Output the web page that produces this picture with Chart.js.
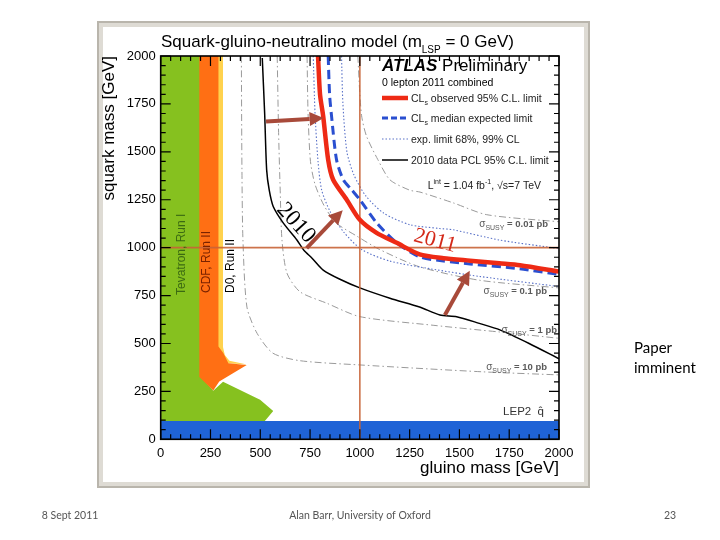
<!DOCTYPE html>
<html>
<head>
<meta charset="utf-8">
<script src="https://cdn.jsdelivr.net/npm/chart.js@4.4.1/dist/chart.umd.min.js"></script>
<style>
  html, body { margin: 0; padding: 0; background: #fff; }
  canvas { display: block; }
</style>
</head>
<body>
<canvas id="chart" width="720" height="540"></canvas>
<script>
const FONT = "'Liberation Sans', Arial, sans-serif";
const SERIF = "'Liberation Serif', 'DejaVu Serif', serif";

// axis range and ticks (GeV)
const axisMin = 0;
const axisMax = 2000;
const majorStep = 250;
const minorStep = 50;

// CLs observed 95% C.L. limit (2011)
const obsX = [790, 800, 816, 841, 866, 934, 1000, 1084, 1185, 1300, 1420, 1553, 1700, 1804, 2000];
const obsY = [2000, 1800, 1685, 1458, 1354, 1250, 1145, 1077, 1025, 965, 945, 932, 918, 908, 875];

// CLs median expected limit
const expX = [841, 848, 858, 883, 917, 959, 1000, 1084, 1185, 1300, 1420, 1553, 1800, 2000];
const expY = [2000, 1800, 1685, 1458, 1354, 1302, 1250, 1130, 1025, 952, 930, 915, 890, 860];

// expected limit bands (68%, 99%)
const bandLoX = [766, 775, 790, 808, 850, 920, 1009, 1150, 1352, 1600, 2000];
const bandLoY = [2000, 1700, 1450, 1302, 1190, 1080, 990, 930, 890, 850, 797];
const bandHiX = [908, 915, 935, 970, 1030, 1120, 1250, 1400, 1470, 1700, 2000];
const bandHiY = [2000, 1750, 1500, 1380, 1270, 1180, 1120, 1100, 1093, 1040, 995];

// 2010 data PCL 95% C.L. limit
const pclX = [510, 522, 532, 545, 565, 616, 683, 720, 760, 816, 900, 1000, 1151, 1300, 1402, 1486, 1600, 1703, 1850, 2000];
const pclY = [1990, 1700, 1406, 1300, 1215, 1128, 1041, 985, 945, 883, 835, 790, 736, 690, 649, 640, 605, 571, 500, 420];

// sigma_SUSY contours
const sig001X = [990, 1000, 1010, 1034, 1090, 1151, 1250, 1302, 1468, 1637, 2000];
const sig001Y = [2000, 1800, 1680, 1580, 1460, 1354, 1300, 1290, 1234, 1172, 1135];
const sig01X = [735, 740, 752, 775, 820, 880, 985, 1100, 1300, 1600, 2000];
const sig01Y = [2000, 1700, 1450, 1330, 1220, 1130, 1060, 990, 900, 830, 790];
const sig1X = [585, 592, 600, 609, 634, 699, 834, 1000, 1368, 1700, 2000];
const sig1Y = [2000, 1600, 1300, 1040, 867, 770, 710, 640, 595, 560, 527];
const sig10X = [405, 408, 413, 433, 484, 564, 700, 1000, 1618, 2000];
const sig10Y = [2000, 1400, 1040, 690, 553, 449, 410, 388, 352, 336];

// excluded regions from earlier experiments
const tevX = [0, 0, 200, 200, 264, 313, 499, 565, 523, 0];
const tevY = [95, 2000, 2000, 330, 253, 300, 206, 148, 95, 95];
const cdfX = [194, 290, 290, 315, 340, 432, 294, 264, 194, 194];
const cdfY = [2000, 2000, 484, 449, 397, 388, 301, 254, 325, 2000];
const d0X = [283, 313, 313, 322, 345, 433, 300, 283, 283];
const d0Y = [2000, 2000, 480, 440, 410, 390, 400, 470, 2000];
const lepX = [0, 2000, 2000, 0, 0];
const lepY = [0, 0, 95, 95, 0];

// slide annotations: guide lines at 1 TeV, arrows
const guideHX = [0, 2000];
const guideHY = [1000, 1000];
const guideVX = [1000, 1000];
const guideVY = [0, 2000];
const arrows = [
  { x: [529, 818], y: [1658, 1676] },
  { x: [733, 914], y: [997, 1195] },
  { x: [1427, 1552], y: [649, 880] }
];

const pts = (xs, ys) => xs.map((x, i) => ({ x, y: ys[i] }));

function curve(label, xs, ys, style) {
  return Object.assign({ label, data: pts(xs, ys), pointRadius: 0, fill: false, tension: 0.25 }, style);
}
function area(label, xs, ys, color, order) {
  return { label, data: pts(xs, ys), pointRadius: 0, borderWidth: 0, tension: 0,
           backgroundColor: color, borderColor: color, fill: 'shape', order };
}

const grayDash = { borderColor: '#9a9a9a', borderWidth: 1, borderDash: [7, 3, 1.5, 3], order: 6 };
const blueDot = { borderColor: '#5a72c8', borderWidth: 1.1, borderDash: [1.5, 2], order: 5 };

const datasets = [
  area('LEP2', lepX, lepY, '#1f63d6', 12),
  area('Tevatron, Run I', tevX, tevY, '#86c11f', 11),
  area('D0, Run II', d0X, d0Y, '#ffd24e', 10),
  area('CDF, Run II', cdfX, cdfY, '#ff6f14', 9),
  curve('sigma 10 pb', sig10X, sig10Y, grayDash),
  curve('sigma 1 pb', sig1X, sig1Y, grayDash),
  curve('sigma 0.1 pb', sig01X, sig01Y, grayDash),
  curve('sigma 0.01 pb', sig001X, sig001Y, grayDash),
  curve('exp. band low', bandLoX, bandLoY, blueDot),
  curve('exp. band high', bandHiX, bandHiY, blueDot),
  curve('2010 PCL', pclX, pclY, { borderColor: '#000', borderWidth: 1.5, order: 4 }),
  curve('guide h', guideHX, guideHY, { borderColor: 'rgba(200,100,55,0.9)', borderWidth: 1.6, tension: 0, order: 3 }),
  curve('guide v', guideVX, guideVY, { borderColor: 'rgba(200,100,55,0.9)', borderWidth: 1.6, tension: 0, order: 3 }),
  curve('CLs expected', expX, expY, { borderColor: '#2a4fd0', borderWidth: 3, borderDash: [9, 5], order: 2 }),
  curve('CLs observed', obsX, obsY, { borderColor: '#ee2a15', borderWidth: 4.5, order: 1 })
];

function fontOf(p) {
  return `${p.style || ''} ${p.weight || ''} ${p.size}px ${p.family || FONT}`;
}
function rich(c, parts, x, y, align, color) {
  let w = 0;
  parts.forEach(p => { c.font = fontOf(p); p.w = c.measureText(p.t).width; w += p.w; });
  let cx = align === 'right' ? x - w : align === 'center' ? x - w / 2 : x;
  c.textAlign = 'left';
  c.textBaseline = 'alphabetic';
  parts.forEach(p => {
    c.font = fontOf(p);
    c.fillStyle = p.color || color || '#000';
    c.fillText(p.t, cx, y + (p.dy || 0));
    cx += p.w;
  });
}
function sigmaLabel(c, value, x, y) {
  rich(c, [
    { t: 'σ', size: 10 },
    { t: 'SUSY', size: 7, dy: 3 },
    { t: ' = ' + value + ' pb', size: 9.5, weight: 'bold' }
  ], x, y, 'right', '#5a5a5a');
}

const decor = {
  id: 'decor',
  beforeDraw(chart) {
    const c = chart.ctx;
    c.save();
    c.fillStyle = '#fff';
    c.fillRect(0, 0, chart.width, chart.height);
    // picture frame on the slide
    c.fillStyle = '#b9b5ac';
    c.fillRect(97, 21, 493, 467);
    c.fillStyle = '#dedbd4';
    c.fillRect(99, 23, 489, 463);
    c.fillStyle = '#fff';
    c.fillRect(103, 27, 481, 455);
    c.restore();
  },
  afterDatasetsDraw(chart) {
    const c = chart.ctx;
    const { left, right, top, bottom } = chart.chartArea;
    const xs = chart.scales.x, ys = chart.scales.y;
    c.save();
    // arrows
    c.strokeStyle = '#a84a3a';
    c.fillStyle = '#a84a3a';
    c.lineWidth = 4;
    arrows.forEach(a => {
      const x0 = xs.getPixelForValue(a.x[0]), y0 = ys.getPixelForValue(a.y[0]);
      const x1 = xs.getPixelForValue(a.x[1]), y1 = ys.getPixelForValue(a.y[1]);
      const ang = Math.atan2(y1 - y0, x1 - x0);
      const hl = 14, hw = 7;
      const bx = x1 - hl * Math.cos(ang), by = y1 - hl * Math.sin(ang);
      c.beginPath();
      c.moveTo(x0, y0);
      c.lineTo(bx, by);
      c.stroke();
      c.beginPath();
      c.moveTo(x1, y1);
      c.lineTo(bx + hw * Math.sin(ang), by - hw * Math.cos(ang));
      c.lineTo(bx - hw * Math.sin(ang), by + hw * Math.cos(ang));
      c.closePath();
      c.fill();
    });
    // frame and inward ticks on all four sides
    c.strokeStyle = '#000';
    c.lineWidth = 1.2;
    c.beginPath();
    for (let v = axisMin; v <= axisMax; v += minorStep) {
      const len = v % majorStep === 0 ? 10 : 5;
      const px = xs.getPixelForValue(v), py = ys.getPixelForValue(v);
      c.moveTo(px, bottom); c.lineTo(px, bottom - len);
      c.moveTo(px, top); c.lineTo(px, top + len);
      c.moveTo(left, py); c.lineTo(left + len, py);
      c.moveTo(right, py); c.lineTo(right - len, py);
    }
    c.stroke();
    c.lineWidth = 1.6;
    c.strokeRect(left, top, right - left, bottom - top);
    c.restore();
  },
  afterDraw(chart) {
    const c = chart.ctx;
    c.save();
    // title
    rich(c, [
      { t: 'Squark-gluino-neutralino model (m', size: 17 },
      { t: 'LSP', size: 10, dy: 6 },
      { t: ' = 0 GeV)', size: 17 }
    ], 161, 47, 'left');

    rich(c, [
      { t: 'ATLAS', size: 17, weight: 'bold', style: 'italic' },
      { t: ' Preliminary', size: 17 }
    ], 382, 71, 'left');
    rich(c, [{ t: '0 lepton 2011 combined', size: 10.5 }], 382, 86, 'left');

    // legend samples
    const lx0 = 382, lx1 = 408, tx = 411;
    const rows = [98, 118, 139, 160];
    c.lineCap = 'butt';
    c.strokeStyle = '#ee2a15'; c.lineWidth = 4.5; c.setLineDash([]);
    c.beginPath(); c.moveTo(lx0, rows[0]); c.lineTo(lx1, rows[0]); c.stroke();
    c.strokeStyle = '#2a4fd0'; c.lineWidth = 3; c.setLineDash([6, 3]);
    c.beginPath(); c.moveTo(lx0, rows[1]); c.lineTo(lx1, rows[1]); c.stroke();
    c.strokeStyle = '#5a72c8'; c.lineWidth = 1.1; c.setLineDash([1.5, 2]);
    c.beginPath(); c.moveTo(lx0, rows[2]); c.lineTo(lx1, rows[2]); c.stroke();
    c.strokeStyle = '#000'; c.lineWidth = 1.5; c.setLineDash([]);
    c.beginPath(); c.moveTo(lx0, rows[3]); c.lineTo(lx1, rows[3]); c.stroke();

    rich(c, [{ t: 'CL', size: 10.5 }, { t: 's', size: 7, dy: 3 }, { t: ' observed 95% C.L. limit', size: 10.5 }], tx, rows[0] + 4, 'left', '#222');
    rich(c, [{ t: 'CL', size: 10.5 }, { t: 's', size: 7, dy: 3 }, { t: ' median expected limit', size: 10.5 }], tx, rows[1] + 4, 'left', '#222');
    rich(c, [{ t: 'exp. limit 68%, 99% CL', size: 10.5 }], tx, rows[2] + 4, 'left', '#222');
    rich(c, [{ t: '2010 data PCL 95% C.L. limit', size: 10.5 }], tx, rows[3] + 4, 'left', '#222');
    rich(c, [
      { t: 'L', size: 10.5 }, { t: 'int', size: 7, dy: -5 },
      { t: ' = 1.04 fb', size: 10.5 }, { t: '-1', size: 7, dy: -5 },
      { t: ', √s=7 TeV', size: 10.5 }
    ], 541, 189, 'right', '#222');

    // cross-section labels
    sigmaLabel(c, '0.01', 548, 227);
    sigmaLabel(c, '0.1', 547, 294);
    sigmaLabel(c, '1', 557, 333);
    sigmaLabel(c, '10', 547, 370);
    rich(c, [{ t: 'LEP2  q\u0302', size: 11.5 }], 544, 415, 'right', '#333');

    // vertical experiment labels
    const vtext = (t, x, y, color) => {
      c.save();
      c.translate(x, y);
      c.rotate(-Math.PI / 2);
      c.font = `12px ${FONT}`;
      c.fillStyle = color;
      c.textAlign = 'left';
      c.textBaseline = 'middle';
      c.fillText(t, 0, 0);
      c.restore();
    };
    vtext('Tevatron, Run I', 182, 295, '#3b6a12');
    vtext('CDF, Run II', 207, 293, '#7a2200');
    vtext('D0, Run II', 231, 293, '#000');

    // year annotations
    const ytext = (t, x, y, deg, size, color) => {
      c.save();
      c.translate(x, y);
      c.rotate(deg * Math.PI / 180);
      c.font = `${size}px ${SERIF}`;
      c.fillStyle = color;
      c.textAlign = 'center';
      c.textBaseline = 'middle';
      c.fillText(t, 0, 0);
      c.restore();
    };
    ytext('2010', 296, 223, 48, 23, '#000');
    ytext('2011', 435, 241, 15, 22, '#d42a1a');

    // slide text
    const slideFont = "Lato, 'Liberation Sans', sans-serif";
    rich(c, [{ t: 'Paper', size: 15, family: slideFont }], 634, 353, 'left', '#000');
    rich(c, [{ t: 'imminent', size: 15, family: slideFont }], 634, 373, 'left', '#000');
    rich(c, [{ t: '8 Sept 2011', size: 10.5, family: slideFont }], 70, 519, 'center', '#555');
    rich(c, [{ t: 'Alan Barr, University of Oxford', size: 10.5, family: slideFont }], 360, 519, 'center', '#555');
    rich(c, [{ t: '23', size: 10.5, family: slideFont }], 670, 519, 'center', '#555');
    c.restore();
  }
};

new Chart(document.getElementById('chart'), {
  type: 'line',
  data: { datasets },
  options: {
    responsive: false,
    animation: false,
    devicePixelRatio: 1,
    layout: { padding: { left: 99, right: 161, top: 56, bottom: 61.8 } },
    plugins: { legend: { display: false }, tooltip: { enabled: false }, title: { display: false } },
    scales: {
      x: {
        type: 'linear', min: axisMin, max: axisMax,
        grid: { display: false, drawTicks: false }, border: { display: false },
        ticks: { stepSize: majorStep, color: '#000', font: { size: 13, family: FONT }, padding: 6,
                 maxRotation: 0, autoSkip: false, callback: (v) => String(v) },
        title: { display: true, text: 'gluino mass [GeV]', align: 'end', color: '#000', font: { size: 17, family: FONT }, padding: 0 },
        afterFit: (s) => { s.height = 38.9; }
      },
      y: {
        type: 'linear', min: axisMin, max: axisMax,
        grid: { display: false, drawTicks: false }, border: { display: false },
        ticks: { stepSize: majorStep, color: '#000', font: { size: 13, family: FONT }, padding: 5,
                 callback: (v) => String(v) },
        title: { display: true, text: 'squark mass [GeV]', align: 'end', color: '#000', font: { size: 17, family: FONT }, padding: 0 },
        afterFit: (s) => { s.width = 61.7; }
      }
    }
  },
  plugins: [decor]
});
</script>
</body>
</html>
